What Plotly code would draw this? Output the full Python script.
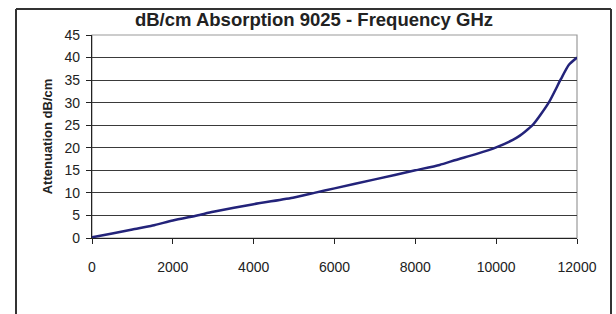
import plotly.graph_objects as go

freq = [0, 500, 1000, 1500, 2000, 2600, 3000, 4000, 5000, 5500, 6000, 7000, 8000,
        8600, 9000, 9500, 10000, 10500, 10900, 11300, 11600, 11800, 12000]
atten = [0.15, 1.0, 1.9, 2.75, 3.9, 5.0, 5.8, 7.5, 9.0, 10.0, 11.0, 13.0, 15.0,
         16.2, 17.3, 18.6, 20.1, 22.2, 25.0, 30.0, 35.2, 38.4, 40.0]

x_ticks = [0, 2000, 4000, 6000, 8000, 10000, 12000]
x_labels = ["0", "2000", "4000", "6000", "8000", "10000", "12000"]
y_ticks = [0, 5, 10, 15, 20, 25, 30, 35, 40, 45]

fig = go.Figure()
fig.add_trace(go.Scatter(x=freq, y=atten, mode="lines",
                         line=dict(color="#23237a", width=2.5, shape="spline", smoothing=0.6),
                         showlegend=False, hoverinfo="skip"))

W, H = 616, 314
L, R, T, B = 92, 577, 35, 238
PW, PH = R - L, B - T


def px(xp):
    return (xp - L) / PW


def py(yp):
    return (B - yp) / PH


fig.update_layout(
    width=W, height=H,
    margin=dict(l=L, r=W - R, t=T, b=H - B, pad=0),
    paper_bgcolor="white", plot_bgcolor="white", showlegend=False,
    font=dict(family="Liberation Sans, Arial, sans-serif", size=14, color="#222"),
    title=dict(text="<b>dB/cm Absorption 9025 - Frequency GHz</b>",
               x=314 / W, xref="container", xanchor="center",
               y=1 - 20 / H, yref="container", yanchor="middle",
               font=dict(size=18.5, color="#222")),
    xaxis=dict(range=[0, 12000], tickvals=x_ticks, ticktext=x_labels,
               showgrid=False, zeroline=False, automargin=False,
               showline=True, linecolor="#222", linewidth=1.2,
               ticks="outside", ticklen=5, tickcolor="#222", tickwidth=1,
               ticklabelstandoff=11, fixedrange=True),
    yaxis=dict(range=[0, 45], tickvals=y_ticks, showgrid=True, gridcolor="#3a3a3a",
               gridwidth=1, zeroline=False, automargin=False,
               showline=True, linecolor="#222", linewidth=1.2,
               ticks="outside", ticklen=5, tickcolor="#222", tickwidth=1,
               ticklabelstandoff=3,
               title=dict(text="<b>Attenuation dB/cm</b>", standoff=8,
                          font=dict(size=13, color="#222")),
               fixedrange=True),
    shapes=[
        dict(type="rect", xref="paper", yref="paper", x0=0, x1=1, y0=0, y1=1,
             line=dict(color="#9a9a9a", width=1.2), layer="below"),
        dict(type="line", xref="paper", yref="paper",
             x0=px(16), x1=px(16), y0=py(330), y1=py(9),
             line=dict(color="#333", width=2), layer="above"),
        dict(type="line", xref="paper", yref="paper",
             x0=px(16), x1=px(611), y0=py(9), y1=py(9),
             line=dict(color="#333", width=2), layer="above"),
        dict(type="line", xref="paper", yref="paper",
             x0=px(611), x1=px(611), y0=py(9), y1=py(330),
             line=dict(color="#333", width=2), layer="above"),
    ],
)

fig.write_html("out.html",
               config={"displayModeBar": False, "staticPlot": True},
               post_script="document.body.style.margin='0px';document.body.style.overflow='hidden';")
